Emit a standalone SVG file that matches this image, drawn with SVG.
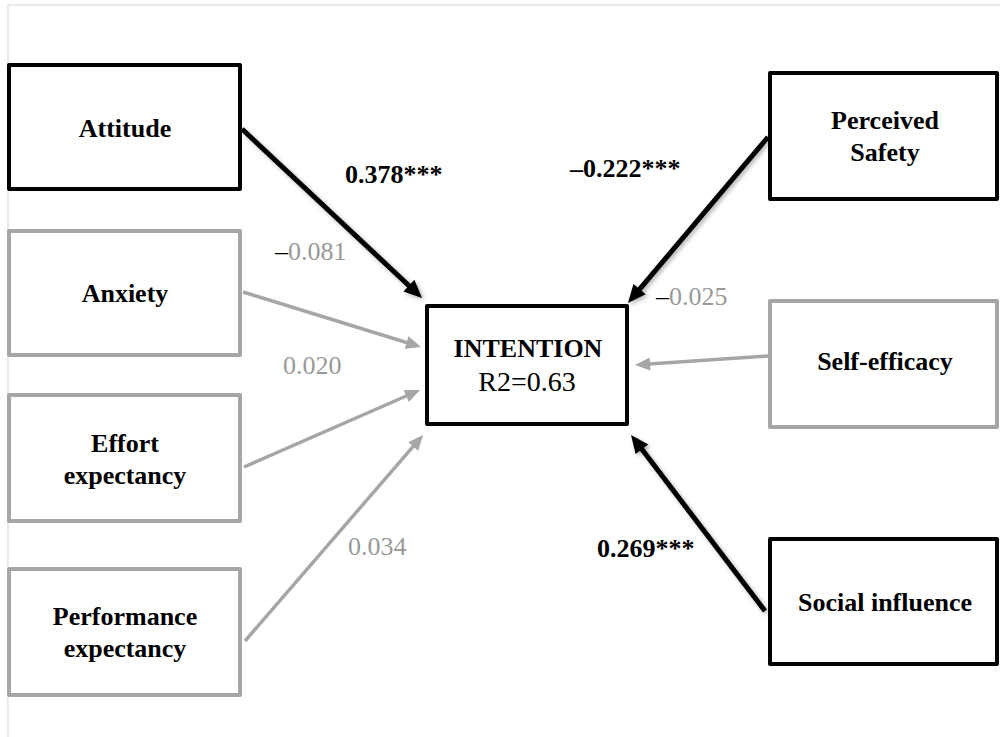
<svg xmlns="http://www.w3.org/2000/svg" width="1000" height="737" viewBox="0 0 1000 737">
  <defs>
    <style>
      .box { fill: #ffffff; stroke-width: 4; stroke-linejoin: round; }
      .dark { stroke: #000000; }
      .light { stroke: #a6a6a6; }
      .lbl { font-family: "Liberation Serif", "Times New Roman", serif; font-size: 26px; font-weight: bold; fill: #000000; text-anchor: middle; }
      .val { font-family: "Liberation Serif", "Times New Roman", serif; font-size: 26px; }
      .sig { font-weight: bold; fill: #000000; }
      .ns { fill: #999999; }
      .cb { stroke: #000000; stroke-width: 5; fill: none; }
      .cg { stroke: #a6a6a6; stroke-width: 3.5; fill: none; }
    </style>
    <marker id="ab" markerUnits="userSpaceOnUse" markerWidth="20" markerHeight="18" refX="6" refY="8" orient="auto" overflow="visible">
      <path d="M0,0 L18,8 L0,16 z" fill="#000000"/>
    </marker>
    <marker id="ag" markerUnits="userSpaceOnUse" markerWidth="16" markerHeight="14" refX="5" refY="6.5" orient="auto" overflow="visible">
      <path d="M0,0 L15,6.5 L0,13 z" fill="#a6a6a6"/>
    </marker>
    <filter id="sh" x="-20%" y="-20%" width="140%" height="140%">
      <feDropShadow dx="2" dy="2" stdDeviation="2" flood-color="#000000" flood-opacity="0.3"/>
    </filter>
  </defs>

  <rect x="0" y="0" width="1000" height="737" fill="#ffffff"/>
  <g id="frame">
    <line x1="8" y1="5" x2="1000" y2="5" stroke="#e3e3e3" stroke-width="1.5"/>
    <line x1="8" y1="5" x2="8" y2="737" stroke="#e3e3e3" stroke-width="1.5"/>
  </g>

  <g id="connectors">
    <line class="cb" filter="url(#sh)" x1="242" y1="129" x2="413.3" y2="289.8" marker-end="url(#ab)"/>
    <line class="cb" filter="url(#sh)" x1="768" y1="137" x2="635.7" y2="293.8" marker-end="url(#ab)"/>
    <line class="cb" filter="url(#sh)" x1="765" y1="611" x2="638.3" y2="444.5" marker-end="url(#ab)"/>
    <line class="cg" x1="243" y1="292" x2="411.4" y2="344.0" marker-end="url(#ag)"/>
    <line class="cg" x1="244" y1="467" x2="410.8" y2="394.0" marker-end="url(#ag)"/>
    <line class="cg" x1="245" y1="641" x2="416.5" y2="442.6" marker-end="url(#ag)"/>
    <line class="cg" x1="768" y1="356" x2="645.0" y2="364.3" marker-end="url(#ag)"/>
  </g>

  <g id="labels">
    <text class="val sig" x="345" y="183">0.378***</text>
    <text class="val sig" x="570" y="177">–0.222***</text>
    <text class="val ns" x="275" y="260"><tspan fill="#000000">–</tspan>0.081</text>
    <text class="val ns" x="283" y="374">0.020</text>
    <text class="val ns" x="656" y="305"><tspan fill="#000000">–</tspan>0.025</text>
    <text class="val ns" x="348" y="555">0.034</text>
    <text class="val sig" x="597" y="557">0.269***</text>
  </g>

  <g id="attitude">
    <rect class="box dark" x="9" y="65" width="231" height="124"/>
    <text class="lbl" x="125" y="137">Attitude</text>
  </g>
  <g id="anxiety">
    <rect class="box light" x="9" y="231" width="231" height="124"/>
    <text class="lbl" x="125" y="302">Anxiety</text>
  </g>
  <g id="effort">
    <rect class="box light" x="9" y="395" width="231" height="126"/>
    <text class="lbl" x="125" y="452">Effort</text>
    <text class="lbl" x="125" y="484">expectancy</text>
  </g>
  <g id="performance">
    <rect class="box light" x="9" y="569" width="231" height="126"/>
    <text class="lbl" x="125" y="625">Performance</text>
    <text class="lbl" x="125" y="657">expectancy</text>
  </g>
  <g id="intention">
    <rect class="box dark" x="427" y="306" width="200" height="118"/>
    <text class="lbl" x="528" y="357">INTENTION</text>
    <text class="lbl" x="527" y="391" style="font-weight:normal;font-size:28px">R2=0.63</text>
  </g>
  <g id="safety">
    <rect class="box dark" x="770" y="73" width="227" height="126"/>
    <text class="lbl" x="885" y="129">Perceived</text>
    <text class="lbl" x="885" y="161">Safety</text>
  </g>
  <g id="selfefficacy">
    <rect class="box light" x="770" y="301" width="227" height="126"/>
    <text class="lbl" x="885" y="370">Self-efficacy</text>
  </g>
  <g id="social">
    <rect class="box dark" x="770" y="539" width="227" height="125"/>
    <text class="lbl" x="885" y="611">Social influence</text>
  </g>
</svg>
